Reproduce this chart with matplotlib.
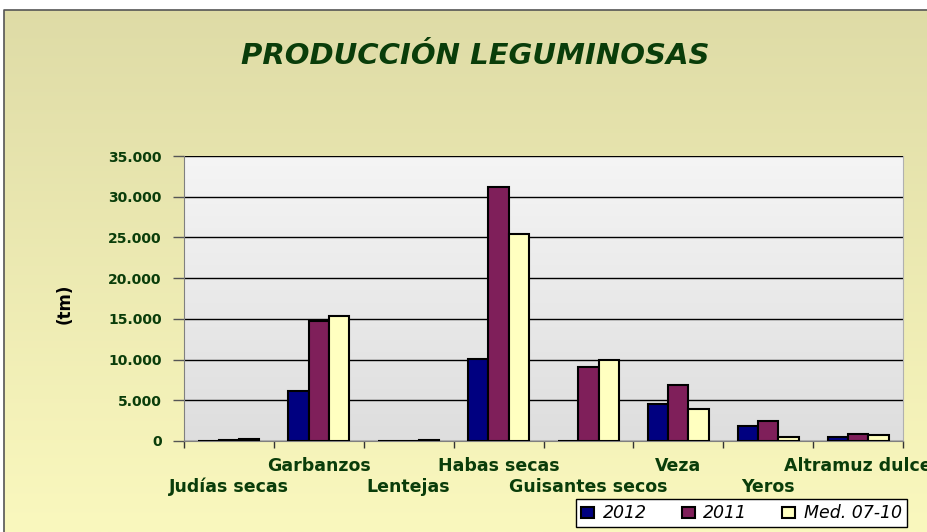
import numpy as np
import matplotlib
matplotlib.use('Agg')
import matplotlib.pyplot as plt
from matplotlib.patches import Rectangle
from matplotlib.ticker import FuncFormatter

plt.rcParams['font.family'] = ['DejaVu Sans']

categorias = ['Judías secas', 'Garbanzos', 'Lentejas', 'Habas secas',
              'Guisantes secos', 'Veza', 'Yeros', 'Altramuz dulce']
serie_2012 = [0, 6200, 50, 10100, 0, 4500, 1800, 500]
serie_2011 = [100, 14700, 50, 31200, 9100, 6900, 2500, 900]
serie_med = [200, 15400, 100, 25400, 9950, 3900, 450, 750]
series = [('2012', serie_2012, '#000080'),
          ('2011', serie_2011, '#7F1F5A'),
          ('Med. 07-10', serie_med, '#FFFFC0')]

verde = '#0A3D0A'
W, H = 927, 532
fig = plt.figure(figsize=(W / 100, H / 100), dpi=100)

# fondo degradado de la figura
bg = fig.add_axes([0, 0, 1, 1], zorder=-10)
grad = np.linspace(0, 1, 256).reshape(-1, 1)
c_top = np.array([0xDE, 0xDB, 0xA6]) / 255
c_bot = np.array([0xFA, 0xF8, 0xBE]) / 255
img = c_top + grad[..., None] * (c_bot - c_top)
bg.imshow(img, aspect='auto', extent=[0, 1, 0, 1], origin='upper')
bg.set_xlim(0, 1)
bg.set_ylim(0, 1)
bg.axis('off')
# zona blanca fuera del marco y borde del grafico
x0, y0 = 4 / W, 1 - 10 / H
bg.add_patch(Rectangle((0, y0), 1, 1 - y0, color='white', lw=0))
bg.add_patch(Rectangle((0, 0), x0, 1, color='white', lw=0))
bg.plot([x0, x0, 1], [0, y0, y0], color='#555555', lw=1.2)

ax = fig.add_axes([184 / W, 1 - 441 / H, (903 - 184) / W, (441 - 156) / H])
pa = 0.96 - grad * 0.09
ax.imshow(np.repeat(pa[..., None], 3, axis=2), aspect='auto',
          extent=[0, 1, 0, 1], transform=ax.transAxes, zorder=0, origin='upper')

x = np.arange(len(categorias))
w = 0.226
for i, (nombre, vals, col) in enumerate(series):
    ax.bar(x + (i - 1) * w, vals, w, color=col, edgecolor='black',
           linewidth=1.5, label=nombre, zorder=3)

ax.set_xlim(-0.5, len(categorias) - 0.5)
ax.set_ylim(0, 35000)
ax.set_yticks(np.arange(0, 35001, 5000))
ax.yaxis.set_major_formatter(FuncFormatter(lambda v, p: f'{int(v):,}'.replace(',', '.')))
ax.grid(axis='y', color='black', linewidth=1, zorder=1)
ax.set_axisbelow(True)
ax.tick_params(axis='y', length=8, width=1, color='#555555', pad=8,
               labelsize=10, labelcolor=verde)
for t in ax.get_yticklabels():
    t.set_fontweight('bold')

ax.set_xticks(np.arange(-0.5, len(categorias)), labels=[])
ax.tick_params(axis='x', length=5, width=1, color='#333333')
for i, cat in enumerate(categorias):
    yy = -0.105 if i % 2 == 1 else -0.178
    ax.text(i, yy, cat, transform=ax.get_xaxis_transform(), ha='center',
            va='baseline', fontsize=12.5, fontweight='bold', color=verde)

ax.spines['top'].set_visible(False)
ax.spines['left'].set_color('#808080')
ax.spines['bottom'].set_color('#808080')
ax.spines['right'].set_color('#B0B0B0')

fig.text(65 / W, 1 - 304 / H, '(tm)', rotation=90, ha='center', va='center',
         fontsize=12, fontweight='bold', color='black')
fig.text(475 / W, 1 - 56 / H, 'PRODUCCIÓN LEGUMINOSAS', ha='center', va='center',
         fontsize=21, fontweight='bold', fontstyle='italic', color=verde)

leg = fig.legend(loc='upper left', bbox_to_anchor=(576 / W, 1 - 499 / H), ncol=3,
                 frameon=True, fancybox=False, edgecolor='black', framealpha=1,
                 handlelength=0.75, handleheight=0.6, handletextpad=0.5,
                 columnspacing=2.0, borderpad=0.3, borderaxespad=0,
                 prop={'size': 12.5, 'style': 'italic'})
leg.get_frame().set_linewidth(1)

fig.savefig('out.png', dpi=100)
